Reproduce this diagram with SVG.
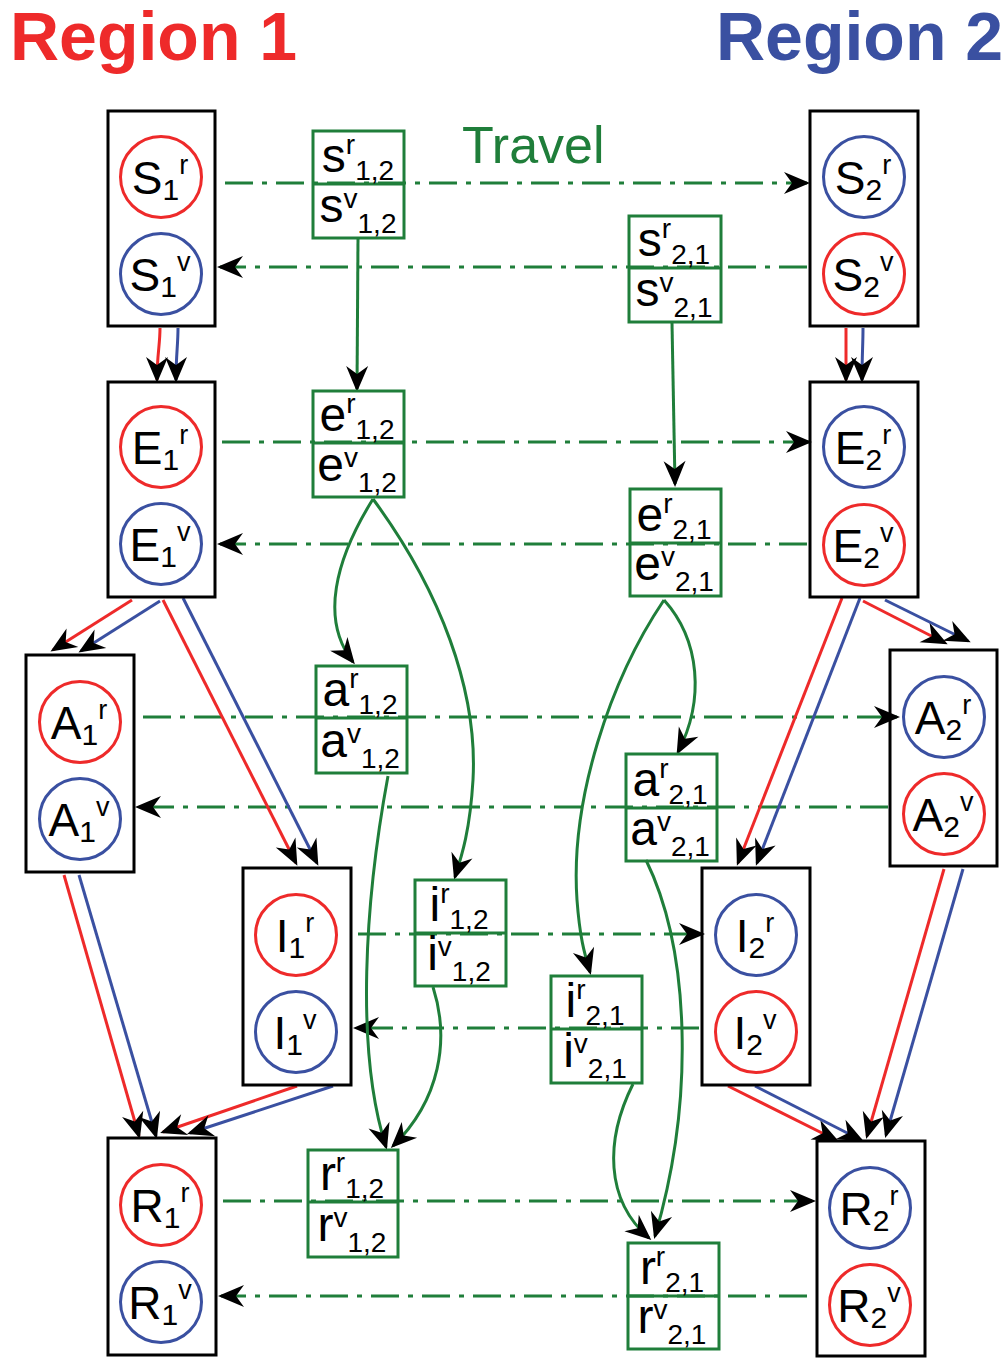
<svg xmlns="http://www.w3.org/2000/svg" width="1007" height="1358" viewBox="0 0 1007 1358">
<defs>
<style>
.box{fill:none;stroke:#000;stroke-width:3}
.cr{fill:none;stroke:#ee2a2a;stroke-width:3}
.cb{fill:none;stroke:#3a50a1;stroke-width:3}
.lbl{font-family:"Liberation Sans",Arial,sans-serif;font-size:46px;fill:#000;text-anchor:middle}
.sub{font-size:30px}
.sup{font-size:27px}
.gbox{fill:none;stroke:#1f7e3a;stroke-width:3}
.gl{font-family:"Liberation Sans",Arial,sans-serif;font-size:48px;fill:#000;text-anchor:middle}
.gs{font-size:28px}
.travel{fill:none;stroke:#1f7e3a;stroke-width:3;stroke-dasharray:28 9 5 9}
.flow{fill:none;stroke:#1f7e3a;stroke-width:3}
.red{fill:none;stroke:#ee2a2a;stroke-width:3}
.blue{fill:none;stroke:#3a50a1;stroke-width:3}
.title{font-family:"Liberation Sans",Arial,sans-serif;font-weight:bold;font-size:68px}
</style>
<marker id="arr" viewBox="-28 -12 30 24" markerWidth="30" markerHeight="24" refX="-3" refY="0" orient="auto" markerUnits="userSpaceOnUse">
<path d="M0,0 L-26,-11 L-18,0 L-26,11 Z" fill="#000"/>
</marker>
</defs>
<rect width="1007" height="1358" fill="#fff"/>

<text class="title" x="10" y="60" fill="#ee2a2a">Region 1</text>
<text class="title" x="716" y="60" fill="#3a50a1">Region 2</text>
<text x="462" y="163" font-family="Liberation Sans, Arial, sans-serif" font-size="52" fill="#1f7e3a">Travel</text>

<g id="connectors">
<g id="travel-lines" marker-end="url(#arr)">
<path class="travel" d="M225,183 H807"/>
<path class="travel" d="M807,267 H220"/>
<path class="travel" d="M222,442 H809"/>
<path class="travel" d="M807,544 H220"/>
<path class="travel" d="M143,717 H897"/>
<path class="travel" d="M888,807 H138"/>
<path class="travel" d="M358,934 H702"/>
<path class="travel" d="M699,1028 H356"/>
<path class="travel" d="M223,1201 H813"/>
<path class="travel" d="M807,1296 H221"/>
</g>
<g id="flows" marker-end="url(#arr)">
<path class="flow" d="M358,239 L357,389"/>
<path class="flow" d="M672,323 L675,484"/>
<path class="flow" d="M373,499 C335,560 320,620 353,662"/>
<path class="flow" d="M373,499 C440,590 478,690 473,780 C470,830 462,855 455,877"/>
<path class="flow" d="M664,600 C700,640 705,700 678,752"/>
<path class="flow" d="M664,600 C610,680 570,800 577,900 C580,940 585,955 590,972"/>
<path class="flow" d="M388,776 C365,900 355,1050 386,1147"/>
<path class="flow" d="M433,987 C450,1040 440,1100 393,1146"/>
<path class="flow" d="M646,860 C690,950 695,1100 655,1236"/>
<path class="flow" d="M633,1084 C605,1140 605,1200 649,1238"/>
</g>
<g id="transitions" marker-end="url(#arr)">
<path class="red" d="M160,328 C160,345 157,355 157,380"/>
<path class="blue" d="M178,328 C178,345 176,355 176,380"/>
<path class="red" d="M846,328 C846,345 846,355 846,380"/>
<path class="blue" d="M863,328 C863,345 862,355 862,380"/>
<path class="red" d="M132,600 L53,650"/>
<path class="blue" d="M160,601 L81,651"/>
<path class="red" d="M163,600 L296,863"/>
<path class="blue" d="M183,598 L317,863"/>
<path class="red" d="M64,875 L139,1136"/>
<path class="blue" d="M79,875 L156,1136"/>
<path class="red" d="M297,1086 L163,1132"/>
<path class="blue" d="M333,1086 L190,1133"/>
<path class="red" d="M842,598 L738,863"/>
<path class="blue" d="M860,598 L757,863"/>
<path class="red" d="M863,601 L945,643"/>
<path class="blue" d="M885,600 L968,641"/>
<path class="red" d="M944,869 L867,1136"/>
<path class="blue" d="M963,869 L886,1135"/>
<path class="red" d="M728,1086 L836,1140"/>
<path class="blue" d="M755,1086 L861,1140"/>
</g>
</g>

<g id="S1">
<rect class="box" x="108" y="111" width="107" height="215"/>
<circle class="cr" cx="161" cy="177" r="40.5"/>
<circle class="cb" cx="161" cy="274" r="40.5"/>
<text class="lbl" x="160" y="194">S<tspan class="sub" dy="6">1</tspan><tspan class="sup" dy="-26">r</tspan></text>
<text class="lbl" x="160" y="291">S<tspan class="sub" dy="6">1</tspan><tspan class="sup" dy="-26">v</tspan></text>
</g>
<g id="E1">
<rect class="box" x="108" y="382" width="107" height="215"/>
<circle class="cr" cx="161" cy="447" r="40.5"/>
<circle class="cb" cx="161" cy="544" r="40.5"/>
<text class="lbl" x="160" y="464">E<tspan class="sub" dy="6">1</tspan><tspan class="sup" dy="-26">r</tspan></text>
<text class="lbl" x="160" y="561">E<tspan class="sub" dy="6">1</tspan><tspan class="sup" dy="-26">v</tspan></text>
</g>
<g id="A1">
<rect class="box" x="26" y="655" width="108" height="217"/>
<circle class="cr" cx="80" cy="722" r="40.5"/>
<circle class="cb" cx="80" cy="819" r="40.5"/>
<text class="lbl" x="79" y="739">A<tspan class="sub" dy="6">1</tspan><tspan class="sup" dy="-26">r</tspan></text>
<text class="lbl" x="79" y="836">A<tspan class="sub" dy="6">1</tspan><tspan class="sup" dy="-26">v</tspan></text>
</g>
<g id="I1">
<rect class="box" x="243" y="868" width="108" height="217"/>
<circle class="cr" cx="296" cy="935" r="40.5"/>
<circle class="cb" cx="296" cy="1032" r="40.5"/>
<text class="lbl" x="295" y="952">I<tspan class="sub" dy="6">1</tspan><tspan class="sup" dy="-26">r</tspan></text>
<text class="lbl" x="295" y="1049">I<tspan class="sub" dy="6">1</tspan><tspan class="sup" dy="-26">v</tspan></text>
</g>
<g id="R1">
<rect class="box" x="108" y="1138" width="108" height="217"/>
<circle class="cr" cx="161" cy="1205" r="40.5"/>
<circle class="cb" cx="161" cy="1302" r="40.5"/>
<text class="lbl" x="160" y="1222">R<tspan class="sub" dy="6">1</tspan><tspan class="sup" dy="-26">r</tspan></text>
<text class="lbl" x="160" y="1319">R<tspan class="sub" dy="6">1</tspan><tspan class="sup" dy="-26">v</tspan></text>
</g>

<g id="S2">
<rect class="box" x="810" y="111" width="108" height="215"/>
<circle class="cb" cx="864" cy="177" r="40.5"/>
<circle class="cr" cx="864" cy="274" r="40.5"/>
<text class="lbl" x="863" y="194">S<tspan class="sub" dy="6">2</tspan><tspan class="sup" dy="-26">r</tspan></text>
<text class="lbl" x="863" y="291">S<tspan class="sub" dy="6">2</tspan><tspan class="sup" dy="-26">v</tspan></text>
</g>
<g id="E2">
<rect class="box" x="810" y="382" width="108" height="215"/>
<circle class="cb" cx="864" cy="447" r="40.5"/>
<circle class="cr" cx="864" cy="545" r="40.5"/>
<text class="lbl" x="863" y="464">E<tspan class="sub" dy="6">2</tspan><tspan class="sup" dy="-26">r</tspan></text>
<text class="lbl" x="863" y="562">E<tspan class="sub" dy="6">2</tspan><tspan class="sup" dy="-26">v</tspan></text>
</g>
<g id="A2">
<rect class="box" x="890" y="650" width="107" height="216"/>
<circle class="cb" cx="944" cy="717" r="40.5"/>
<circle class="cr" cx="944" cy="814" r="40.5"/>
<text class="lbl" x="943" y="734">A<tspan class="sub" dy="6">2</tspan><tspan class="sup" dy="-26">r</tspan></text>
<text class="lbl" x="943" y="831">A<tspan class="sub" dy="6">2</tspan><tspan class="sup" dy="-26">v</tspan></text>
</g>
<g id="I2">
<rect class="box" x="702" y="868" width="108" height="217"/>
<circle class="cb" cx="756" cy="935" r="40.5"/>
<circle class="cr" cx="756" cy="1032" r="40.5"/>
<text class="lbl" x="755" y="952">I<tspan class="sub" dy="6">2</tspan><tspan class="sup" dy="-26">r</tspan></text>
<text class="lbl" x="755" y="1049">I<tspan class="sub" dy="6">2</tspan><tspan class="sup" dy="-26">v</tspan></text>
</g>
<g id="R2">
<rect class="box" x="817" y="1141" width="108" height="215"/>
<circle class="cb" cx="870" cy="1208" r="40.5"/>
<circle class="cr" cx="870" cy="1305" r="40.5"/>
<text class="lbl" x="869" y="1225">R<tspan class="sub" dy="6">2</tspan><tspan class="sup" dy="-26">r</tspan></text>
<text class="lbl" x="869" y="1322">R<tspan class="sub" dy="6">2</tspan><tspan class="sup" dy="-26">v</tspan></text>
</g>

<g id="s12">
<rect class="gbox" x="313" y="131" width="91" height="107"/>
<line class="gbox" x1="313" y1="184" x2="404" y2="184"/>
<text class="gl" x="358" y="172">s<tspan class="gs" dy="-18">r</tspan><tspan class="gs" dy="26">1,2</tspan></text>
<text class="gl" x="358" y="222">s<tspan class="gs" dy="-14">v</tspan><tspan class="gs" dy="25">1,2</tspan></text>
</g>
<g id="s21">
<rect class="gbox" x="629" y="216" width="92" height="106"/>
<line class="gbox" x1="629" y1="268" x2="721" y2="268"/>
<text class="gl" x="674" y="256">s<tspan class="gs" dy="-18">r</tspan><tspan class="gs" dy="26">2,1</tspan></text>
<text class="gl" x="674" y="306">s<tspan class="gs" dy="-14">v</tspan><tspan class="gs" dy="25">2,1</tspan></text>
</g>
<g id="e12">
<rect class="gbox" x="313" y="391" width="91" height="106"/>
<line class="gbox" x1="313" y1="443" x2="404" y2="443"/>
<text class="gl" x="357" y="431">e<tspan class="gs" dy="-18">r</tspan><tspan class="gs" dy="26">1,2</tspan></text>
<text class="gl" x="357" y="481">e<tspan class="gs" dy="-14">v</tspan><tspan class="gs" dy="25">1,2</tspan></text>
</g>
<g id="e21">
<rect class="gbox" x="630" y="489" width="91" height="107"/>
<line class="gbox" x1="630" y1="543" x2="721" y2="543"/>
<text class="gl" x="674" y="531">e<tspan class="gs" dy="-18">r</tspan><tspan class="gs" dy="26">2,1</tspan></text>
<text class="gl" x="674" y="580">e<tspan class="gs" dy="-14">v</tspan><tspan class="gs" dy="25">2,1</tspan></text>
</g>
<g id="a12">
<rect class="gbox" x="316" y="666" width="91" height="107"/>
<line class="gbox" x1="316" y1="718" x2="407" y2="718"/>
<text class="gl" x="360" y="706">a<tspan class="gs" dy="-18">r</tspan><tspan class="gs" dy="26">1,2</tspan></text>
<text class="gl" x="360" y="757">a<tspan class="gs" dy="-14">v</tspan><tspan class="gs" dy="25">1,2</tspan></text>
</g>
<g id="a21">
<rect class="gbox" x="626" y="754" width="91" height="107"/>
<line class="gbox" x1="626" y1="808" x2="717" y2="808"/>
<text class="gl" x="670" y="796">a<tspan class="gs" dy="-18">r</tspan><tspan class="gs" dy="26">2,1</tspan></text>
<text class="gl" x="670" y="845">a<tspan class="gs" dy="-14">v</tspan><tspan class="gs" dy="25">2,1</tspan></text>
</g>
<g id="i12">
<rect class="gbox" x="415" y="880" width="91" height="106"/>
<line class="gbox" x1="415" y1="933" x2="506" y2="933"/>
<text class="gl" x="459" y="921">i<tspan class="gs" dy="-18">r</tspan><tspan class="gs" dy="26">1,2</tspan></text>
<text class="gl" x="459" y="970">i<tspan class="gs" dy="-14">v</tspan><tspan class="gs" dy="25">1,2</tspan></text>
</g>
<g id="i21">
<rect class="gbox" x="551" y="976" width="91" height="107"/>
<line class="gbox" x1="551" y1="1029" x2="642" y2="1029"/>
<text class="gl" x="595" y="1017">i<tspan class="gs" dy="-18">r</tspan><tspan class="gs" dy="26">2,1</tspan></text>
<text class="gl" x="595" y="1067">i<tspan class="gs" dy="-14">v</tspan><tspan class="gs" dy="25">2,1</tspan></text>
</g>
<g id="r12">
<rect class="gbox" x="308" y="1150" width="90" height="107"/>
<line class="gbox" x1="308" y1="1202" x2="398" y2="1202"/>
<text class="gl" x="352" y="1190">r<tspan class="gs" dy="-18">r</tspan><tspan class="gs" dy="26">1,2</tspan></text>
<text class="gl" x="352" y="1241">r<tspan class="gs" dy="-14">v</tspan><tspan class="gs" dy="25">1,2</tspan></text>
</g>
<g id="r21">
<rect class="gbox" x="628" y="1243" width="91" height="106"/>
<line class="gbox" x1="628" y1="1296" x2="719" y2="1296"/>
<text class="gl" x="672" y="1284">r<tspan class="gs" dy="-18">r</tspan><tspan class="gs" dy="26">2,1</tspan></text>
<text class="gl" x="672" y="1333">r<tspan class="gs" dy="-14">v</tspan><tspan class="gs" dy="25">2,1</tspan></text>
</g>
</svg>
